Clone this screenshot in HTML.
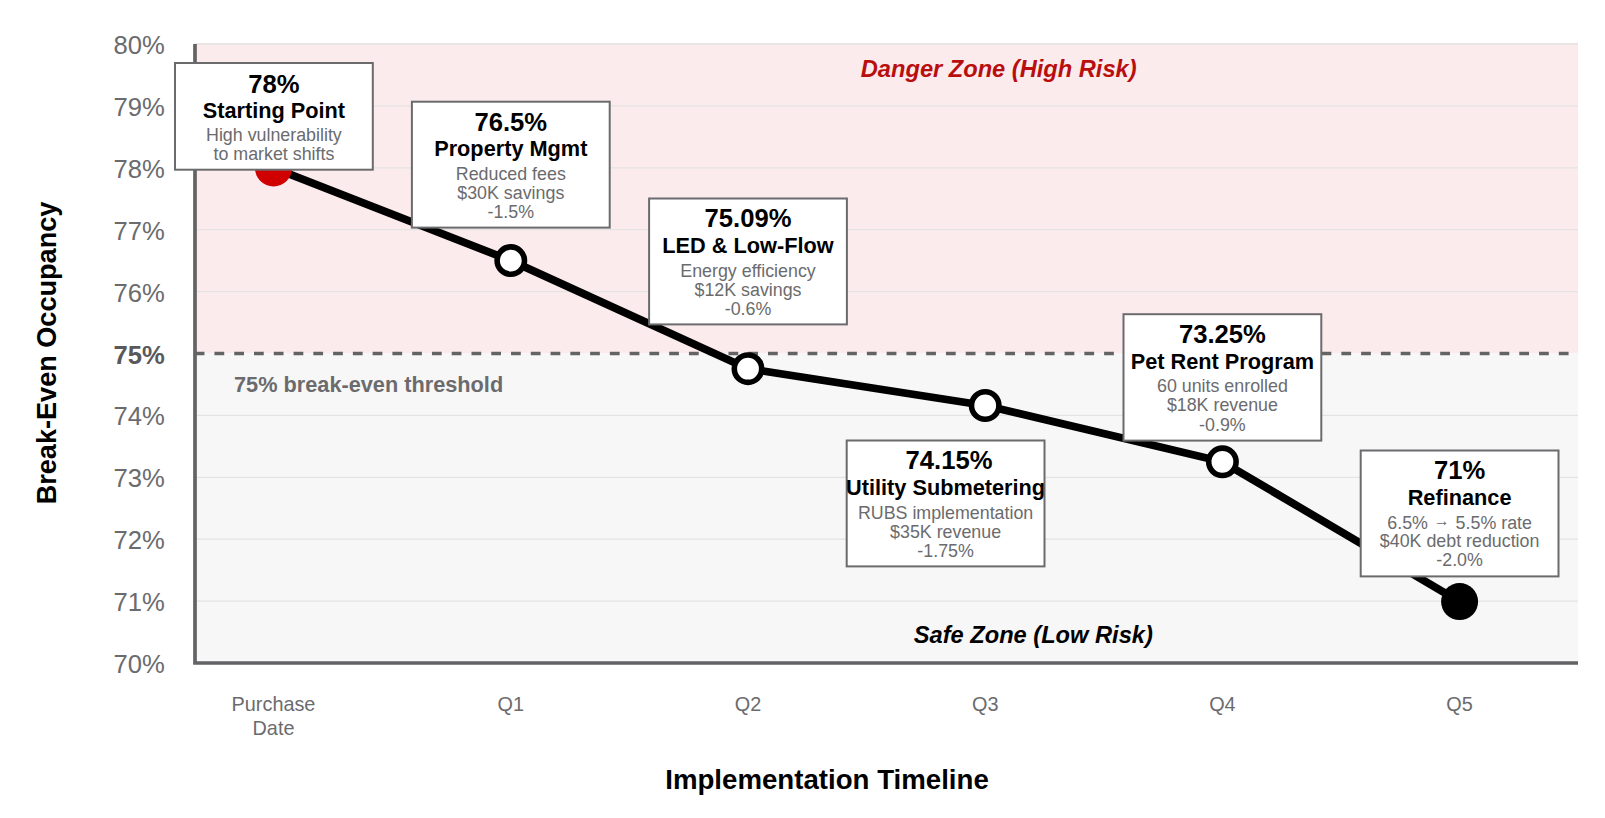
<!DOCTYPE html>
<html><head><meta charset="utf-8"><title>Break-Even Occupancy</title>
<style>
html,body{margin:0;padding:0;background:#fff;}
body{width:1605px;height:818px;overflow:hidden;}
svg{display:block;font-family:"Liberation Sans",Arial,sans-serif;}
.tick{font-size:25.64px;fill:#6b6b6e;text-anchor:end;}
.xt{font-size:19.85px;fill:#6b6b6e;text-anchor:middle;}
.h1{font-size:25.64px;font-weight:bold;fill:#000;text-anchor:middle;}
.h2{font-size:21.73px;font-weight:bold;fill:#000;text-anchor:middle;}
.d{font-size:17.83px;fill:#6b6b6e;text-anchor:middle;}
.box{fill:#fff;stroke:#6b6b6e;stroke-width:2;}
</style></head><body>
<svg width="1605" height="818" viewBox="0 0 1605 818">
<rect x="0" y="0" width="1605" height="818" fill="#ffffff"/>
<rect x="195.0" y="43.0" width="1383.0" height="310.5" fill="#fbebec"/>
<rect x="195.0" y="353.5" width="1383.0" height="309.5" fill="#f7f7f7"/>

<line x1="195.0" x2="1578.0" y1="601.1" y2="601.1" stroke="#e3e3e3" stroke-width="1.3"/>
<line x1="195.0" x2="1578.0" y1="539.2" y2="539.2" stroke="#e3e3e3" stroke-width="1.3"/>
<line x1="195.0" x2="1578.0" y1="477.3" y2="477.3" stroke="#e3e3e3" stroke-width="1.3"/>
<line x1="195.0" x2="1578.0" y1="415.4" y2="415.4" stroke="#e3e3e3" stroke-width="1.3"/>
<line x1="195.0" x2="1578.0" y1="291.6" y2="291.6" stroke="#e3e3e3" stroke-width="1.3"/>
<line x1="195.0" x2="1578.0" y1="229.7" y2="229.7" stroke="#e3e3e3" stroke-width="1.3"/>
<line x1="195.0" x2="1578.0" y1="167.8" y2="167.8" stroke="#e3e3e3" stroke-width="1.3"/>
<line x1="195.0" x2="1578.0" y1="105.9" y2="105.9" stroke="#e3e3e3" stroke-width="1.3"/>
<line x1="195.0" x2="1578.0" y1="44.0" y2="44.0" stroke="#e3e3e3" stroke-width="1.3"/>
<line x1="194.7" x2="1578.0" y1="353.5" y2="353.5" stroke="#636366" stroke-width="3.5" stroke-dasharray="9.75 10.02"/>
<path d="M195.0 44.0 V663.0 H1578.0" fill="none" stroke="#636366" stroke-width="3.7"/>
<text class="tick" x="164.7" y="672.9">70%</text>
<text class="tick" x="164.7" y="611.0">71%</text>
<text class="tick" x="164.7" y="549.1">72%</text>
<text class="tick" x="164.7" y="487.2">73%</text>
<text class="tick" x="164.7" y="425.3">74%</text>
<text class="tick" x="164.7" y="363.8" style="font-weight:bold;fill:#59595c">75%</text>
<text class="tick" x="164.7" y="301.5">76%</text>
<text class="tick" x="164.7" y="239.6">77%</text>
<text class="tick" x="164.7" y="177.7">78%</text>
<text class="tick" x="164.7" y="115.8">79%</text>
<text class="tick" x="164.7" y="53.9">80%</text>
<text class="xt" x="273.5" y="710.6">Purchase</text><text class="xt" x="273.5" y="734.5">Date</text>
<text class="xt" x="510.8" y="710.6">Q1</text>
<text class="xt" x="748.0" y="710.6">Q2</text>
<text class="xt" x="985.2" y="710.6">Q3</text>
<text class="xt" x="1222.4" y="710.6">Q4</text>
<text class="xt" x="1459.6" y="710.6">Q5</text>
<text x="998.7" y="77" style="font-size:23.65px;font-weight:bold;font-style:italic;fill:#b90e0e;text-anchor:middle">Danger Zone (High Risk)</text>
<text x="1033.3" y="643.4" style="font-size:23.65px;font-weight:bold;font-style:italic;fill:#000;text-anchor:middle">Safe Zone (Low Risk)</text>
<text x="234" y="391.5" style="font-size:21.73px;font-weight:bold;fill:#6b6b6e">75% break-even threshold</text>
<text transform="translate(56 353) rotate(-90)" style="font-size:27.1px;font-weight:bold;fill:#000;text-anchor:middle">Break-Even Occupancy</text>
<text x="827" y="789" style="font-size:27.65px;font-weight:bold;fill:#000;text-anchor:middle">Implementation Timeline</text>
<polyline fill="none" stroke="#000" stroke-width="7.8" stroke-linejoin="round" points="273.5,167.8 510.8,260.6 748.0,368.7 985.2,405.5 1222.4,461.8 1459.6,601.6"/>
<circle cx="273.5" cy="167.8" r="18.6" fill="#d00000"/>
<circle cx="510.8" cy="260.6" r="13.7" fill="#fff" stroke="#000" stroke-width="5.6"/>
<circle cx="748.0" cy="368.7" r="13.7" fill="#fff" stroke="#000" stroke-width="5.6"/>
<circle cx="985.2" cy="405.5" r="13.7" fill="#fff" stroke="#000" stroke-width="5.6"/>
<circle cx="1222.4" cy="461.8" r="13.7" fill="#fff" stroke="#000" stroke-width="5.6"/>
<circle cx="1459.6" cy="601.6" r="18.5" fill="#000"/>
<rect class="box" x="175.0" y="63.0" width="197.8" height="106.7"/>
<text class="h1" x="273.9" y="92.5">78%</text>
<text class="h2" x="273.9" y="118.0">Starting Point</text>
<text class="d" x="273.9" y="140.7">High vulnerability</text>
<text class="d" x="273.9" y="159.6">to market shifts</text>
<rect class="box" x="411.9" y="101.7" width="197.8" height="125.9"/>
<text class="h1" x="510.8" y="131.3">76.5%</text>
<text class="h2" x="510.8" y="156.0">Property Mgmt</text>
<text class="d" x="510.8" y="179.7">Reduced fees</text>
<text class="d" x="510.8" y="199.3">$30K savings</text>
<text class="d" x="510.8" y="217.6">-1.5%</text>
<rect class="box" x="649.1" y="198.5" width="197.8" height="125.9"/>
<text class="h1" x="748.0" y="227.2">75.09%</text>
<text class="h2" x="748.0" y="253.0">LED &amp; Low-Flow</text>
<text class="d" x="748.0" y="276.7">Energy efficiency</text>
<text class="d" x="748.0" y="296.2">$12K savings</text>
<text class="d" x="748.0" y="314.6">-0.6%</text>
<rect class="box" x="846.7" y="440.5" width="197.8" height="125.9"/>
<text class="h1" x="949.0" y="469.1">74.15%</text>
<text class="h2" x="945.6" y="494.7">Utility Submetering</text>
<text class="d" x="945.6" y="518.5">RUBS implementation</text>
<text class="d" x="945.6" y="538.3">$35K revenue</text>
<text class="d" x="945.6" y="556.6">-1.75%</text>
<rect class="box" x="1123.5" y="314.2" width="197.8" height="126.4"/>
<text class="h1" x="1222.4" y="343.3">73.25%</text>
<text class="h2" x="1222.4" y="368.7">Pet Rent Program</text>
<text class="d" x="1222.4" y="391.9">60 units enrolled</text>
<text class="d" x="1222.4" y="410.9">$18K revenue</text>
<text class="d" x="1222.4" y="430.8">-0.9%</text>
<rect class="box" x="1360.7" y="450.5" width="197.8" height="125.9"/>
<text class="h1" x="1459.6" y="478.7">71%</text>
<text class="h2" x="1459.6" y="504.6">Refinance</text>
<text class="d" x="1459.6" y="528.5">6.5% <tspan dx="0.9" dy="-2.1" style="font-size:16px">→</tspan><tspan dx="0.9" dy="2.1"> 5.5% rate</tspan></text>
<text class="d" x="1459.6" y="547.2">$40K debt reduction</text>
<text class="d" x="1459.6" y="566.4">-2.0%</text>
</svg></body></html>
